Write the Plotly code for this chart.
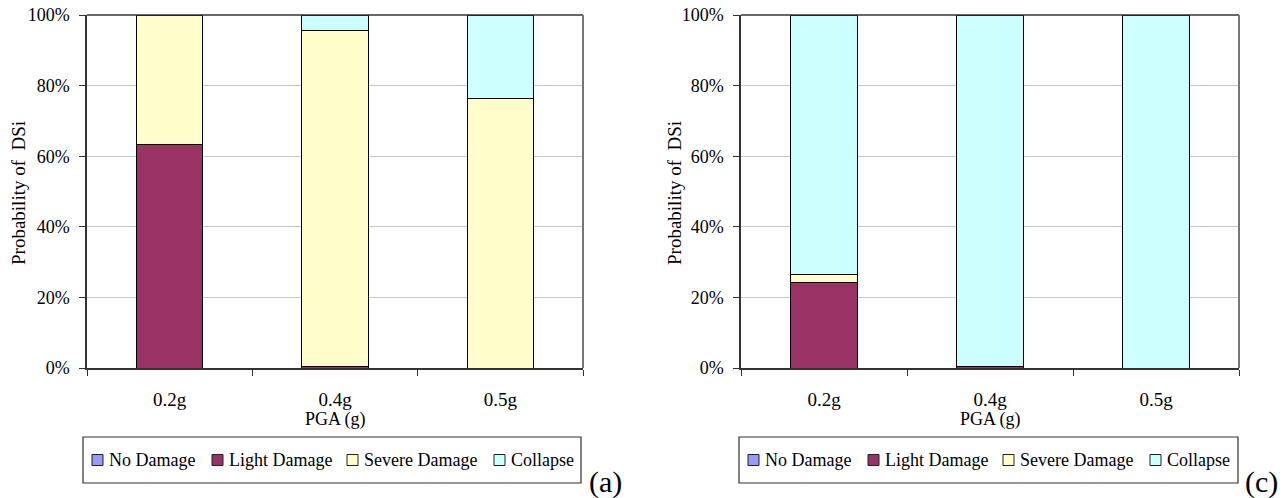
import plotly.graph_objects as go

categories = ["0.2g", "0.4g", "0.5g"]
series_names = ["No Damage", "Light Damage", "Severe Damage", "Collapse"]
colors = ["#9999FF", "#993366", "#FFFFCC", "#CCFFFF"]

# panel (a)
a_no_damage = [0.0, 0.0, 0.0]
a_light = [63.2, 0.5, 0.0]
a_severe = [36.8, 95.0, 76.3]
a_collapse = [0.0, 4.5, 23.7]

# panel (c)
c_no_damage = [0.0, 0.0, 0.0]
c_light = [24.1, 0.5, 0.0]
c_severe = [2.3, 0.0, 0.0]
c_collapse = [73.6, 99.5, 100.0]

W, H = 1284, 498
FONT = "Liberation Serif"

fig = go.Figure()

panels = [
    ("x", "y", [a_no_damage, a_light, a_severe, a_collapse]),
    ("x2", "y2", [c_no_damage, c_light, c_severe, c_collapse]),
]
for xa, ya, data in panels:
    for name, col, vals in zip(series_names, colors, data):
        fig.add_trace(go.Bar(
            x=categories, y=vals, name=name, xaxis=xa, yaxis=ya, showlegend=False,
            marker=dict(color=col, line=dict(color="black", width=1)),
            width=0.4,
        ))

def px(v):
    return v / W

def py(v):
    return 1 - v / H

y_dom = [py(368), py(15)]
xdoms = [[px(87), px(583)], [px(741), px(1239)]]

axis_common_x = dict(
    type="category", tickson="boundaries", ticks="outside", ticklen=6,
    tickcolor="#333", showline=True, linecolor="#333", linewidth=1.5,
    showgrid=False, mirror=False, tickfont=dict(family=FONT, size=19, color="black"),
    ticklabelstandoff=13, fixedrange=True, automargin=False,
)
axis_common_y = dict(
    range=[0, 100], tickvals=[0, 20, 40, 60, 80, 100],
    ticktext=["0%", "20%", "40%", "60%", "80%", "100%"],
    ticks="outside", ticklen=6, tickcolor="#333", showline=True,
    linecolor="#333", linewidth=1.5, showgrid=True, gridcolor="#C8C8C8",
    gridwidth=1, tickfont=dict(family=FONT, size=18, color="black"),
    ticklabelstandoff=6, zeroline=False, fixedrange=True, automargin=False,
)

fig.update_layout(
    width=W, height=H, margin=dict(l=0, r=0, t=0, b=0, autoexpand=False),
    paper_bgcolor="white", plot_bgcolor="white", barmode="stack",
    xaxis=dict(domain=xdoms[0], anchor="y", **axis_common_x),
    yaxis=dict(domain=y_dom, anchor="x", **axis_common_y),
    xaxis2=dict(domain=xdoms[1], anchor="y2", **axis_common_x),
    yaxis2=dict(domain=y_dom, anchor="x2", **axis_common_y),
    showlegend=False,
)

shapes = []
ann = []
# plot frame top/right
for (x0, x1) in [(87, 583), (741, 1239)]:
    shapes.append(dict(type="line", xref="paper", yref="paper", x0=px(x0), x1=px(x1),
                       y0=py(15), y1=py(15), line=dict(color="#333", width=1.5)))
    shapes.append(dict(type="line", xref="paper", yref="paper", x0=px(x1), x1=px(x1),
                       y0=py(15), y1=py(368), line=dict(color="#777", width=2)))

# legend boxes with keys (one per panel)
key_left = [92, 212, 347, 494]   # key square left edges (px) for panel (a)
key_size = 11
legend_mid = 460
for (bx0, bx1, off) in [(83, 581, 0), (739, 1238, 656)]:
    shapes.append(dict(type="rect", xref="paper", yref="paper", x0=px(bx0), x1=px(bx1),
                       y0=py(437), y1=py(483), line=dict(color="#333", width=1.2),
                       fillcolor="rgba(0,0,0,0)"))
    for kx, name, col in zip(key_left, series_names, colors):
        x0 = kx + off
        shapes.append(dict(type="rect", xref="paper", yref="paper",
                           x0=px(x0), x1=px(x0 + key_size),
                           y0=py(legend_mid + key_size / 2), y1=py(legend_mid - key_size / 2),
                           line=dict(color="#222", width=1), fillcolor=col))
        ann.append(dict(text=name, x=px(x0 + 15), y=py(legend_mid), xref="paper", yref="paper",
                        showarrow=False, xanchor="left", yanchor="middle",
                        font=dict(family=FONT, size=18, color="black")))
fig.update_layout(shapes=shapes)

for cx, xc in [(335, 19), (990, 675)]:
    ann.append(dict(text="PGA (g)", x=px(cx), y=py(419), xref="paper", yref="paper",
                    showarrow=False, xanchor="center", yanchor="middle",
                    font=dict(family=FONT, size=18, color="black")))
    ann.append(dict(text="Probability of\u00a0 DSi", x=px(xc), y=py(193), xref="paper", yref="paper",
                    showarrow=False, xanchor="center", yanchor="middle", textangle=-90,
                    font=dict(family=FONT, size=19, color="black")))
ann.append(dict(text="(a)", x=px(605), y=py(482), xref="paper", yref="paper", showarrow=False,
                xanchor="center", yanchor="middle", font=dict(family=FONT, size=30, color="black")))
ann.append(dict(text="(c)", x=px(1261), y=py(482), xref="paper", yref="paper", showarrow=False,
                xanchor="center", yanchor="middle", font=dict(family=FONT, size=30, color="black")))
fig.update_layout(annotations=ann)

fig.write_html("out.html", config={"displayModeBar": False})
